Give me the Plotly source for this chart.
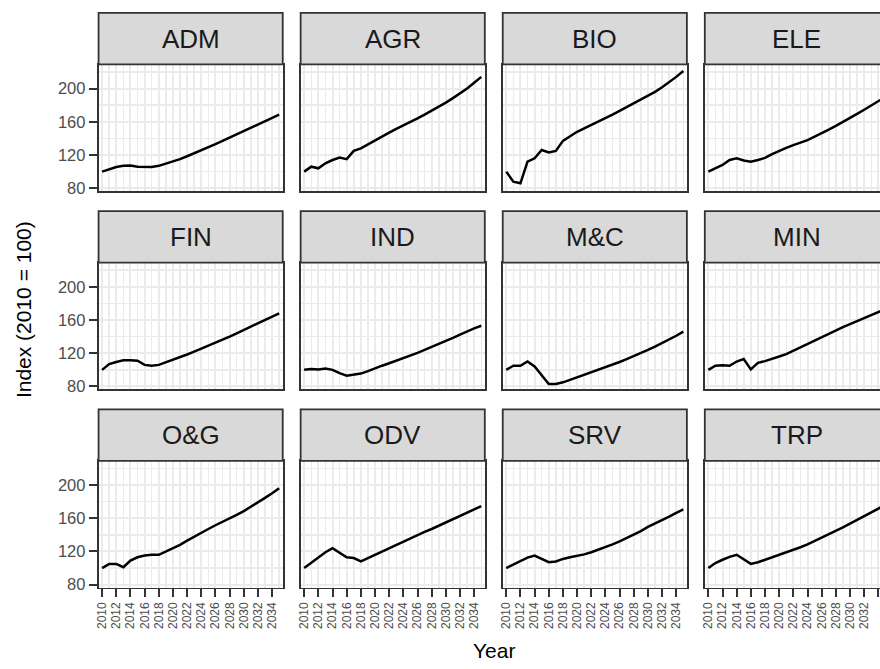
import plotly.graph_objects as go

# ---------------- data ----------------
years = list(range(2010, 2036))
sectors = ["ADM", "AGR", "BIO", "ELE", "FIN", "IND", "M&C", "MIN", "O&G", "ODV", "SRV", "TRP"]

ADM = [100, 103, 105.5, 107, 107.5, 106, 106, 105.5, 107, 109.5, 112, 115, 118.5, 122,
       125.5, 129, 133, 137, 141, 145, 149, 153, 156.5, 160.5, 164.5, 168.5]
AGR = [100, 106, 104, 110, 114, 117, 115, 125, 128, 133, 138, 142.5, 147, 151.5,
       155.5, 160, 164, 168.5, 173, 178, 183, 188.5, 194, 200, 207, 214]
BIO = [100, 88, 86, 112, 116, 126, 123, 125, 137, 143, 148, 152, 156, 160,
       164.5, 168.5, 173, 177.5, 182, 186.5, 191, 196, 201.5, 207.5, 214, 221]
ELE = [100, 104, 108, 114, 116, 113.5, 112, 114, 116.5, 121, 125, 128.5, 132, 135,
       138, 142, 146, 150.5, 155, 159.5, 164.5, 169.5, 174.5, 179.5, 184.5, 190]
FIN = [100, 107, 109.5, 111.5, 111.5, 111, 106, 105, 106, 109, 112.5, 115.5, 118.5, 122,
       125.5, 129, 132.5, 136, 140, 144, 148, 152, 156, 160, 164, 168]
IND = [100, 101, 100.5, 101.5, 100, 96, 93, 94.5, 95.5, 98.5, 102, 105, 108, 111,
       114, 117, 120.5, 124, 127.5, 131, 135, 138.5, 142.5, 146.5, 150, 153]
MC = [100, 105, 105, 110, 104, 93, 83, 83, 85, 88, 91, 94, 97, 100,
      103, 106, 109.5, 113, 116.5, 120, 124, 128, 132, 136.5, 141, 146]
MIN = [100, 105, 105.5, 105, 110, 113, 100.5, 108.5, 110.5, 113, 116, 119, 123, 127,
       131.5, 136, 139.5, 143.5, 147.5, 151.5, 155, 158.5, 162, 165.5, 169, 173]
OG = [100, 105, 105, 101, 109, 113, 115, 116, 116, 120, 124.5, 128, 133, 138,
      142.5, 147, 151.5, 155.5, 159.5, 164, 168.5, 173.5, 179, 184.5, 190, 196]
ODV = [100, 106.5, 113, 119, 124, 118, 113, 112, 108, 112, 116, 120, 124, 128,
       131.5, 135.5, 139.5, 143.5, 147, 151, 155, 158.5, 162.5, 166.5, 170.5, 174.5]
SRV = [100, 104.5, 109, 112.5, 115, 111, 107, 108, 111, 113, 114.5, 116.5, 119, 122,
       125, 128.5, 132, 136, 140, 144.5, 149.5, 153.5, 157.5, 162, 166.5, 170.5]
TRP = [100, 106, 110, 113.5, 116, 110.5, 105, 107, 110, 113, 115.5, 118.5, 121.5, 125,
       128.5, 132.5, 136.5, 140.5, 144.5, 149, 153.5, 158, 162.5, 167, 171.5, 176]

series = [ADM, AGR, BIO, ELE, FIN, IND, MC, MIN, OG, ODV, SRV, TRP]

x_ticks = list(range(2010, 2035, 2))
y_ticks = [80, 120, 160, 200]

# ---------------- layout geometry (px) ----------------
W, H = 880, 669
col_left = [95, 298, 501, 704]
panel_w = 185
row_top = [65, 265, 465]
panel_h = 128
strip_h = 52
x_lo, x_hi = 2009.5, 2035.5
y_range = [76.4, 229.0]

FONT = "Liberation Sans, Arial, Helvetica, sans-serif"
BORDER = "#333333"
GRID = "#EBEBEB"
TICKTXT = "#4D4D4D"

fig = go.Figure()
layout = dict(
    width=W, height=H,
    margin=dict(l=0, r=0, t=0, b=0),
    paper_bgcolor="white", plot_bgcolor="white",
    showlegend=False,
    font=dict(family=FONT, color="black"),
)
shapes = []
annotations = []

for i, (name, vals) in enumerate(zip(sectors, series)):
    r, c = divmod(i, 4)
    xk = "xaxis" if i == 0 else f"xaxis{i+1}"
    yk = "yaxis" if i == 0 else f"yaxis{i+1}"
    xref = "x" if i == 0 else f"x{i+1}"
    yref = "y" if i == 0 else f"y{i+1}"

    left = col_left[c]
    right_full = left + panel_w
    right = min(right_full, W)
    xr_hi = x_lo + (right - left) / panel_w * (x_hi - x_lo)
    top = row_top[r]
    bottom = top + panel_h

    fig.add_trace(go.Scatter(
        x=years, y=vals, mode="lines",
        line=dict(color="black", width=2.5),
        xaxis=xref, yaxis=yref, hoverinfo="skip",
    ))

    bottom_row = (r == 2)
    left_col = (c == 0)
    clipped = right < right_full

    layout[xk] = dict(
        domain=[left / W, right / W], anchor=yref,
        range=[x_lo, xr_hi], tickmode="array", tickvals=x_ticks,
        ticktext=[str(t) for t in x_ticks],
        showgrid=True, gridcolor=GRID, gridwidth=2,
        minor=dict(dtick=1, tick0=2010, showgrid=True, gridcolor=GRID, gridwidth=1.5, ticks=""),
        showline=True, linecolor=BORDER, linewidth=1.8, mirror=True,
        zeroline=False,
        ticks="outside" if bottom_row else "", ticklen=8, tickwidth=2, tickcolor=BORDER,
        showticklabels=bottom_row, tickangle=-90,
        tickfont=dict(family=FONT, size=12, color=TICKTXT),
        fixedrange=True,
    )
    layout[yk] = dict(
        domain=[(H - bottom) / H, (H - top) / H], anchor=xref,
        range=y_range, tickmode="array", tickvals=y_ticks,
        showgrid=True, gridcolor=GRID, gridwidth=2,
        minor=dict(tickvals=[100, 140, 180, 220], showgrid=True, gridcolor=GRID, gridwidth=1.5, ticks=""),
        showline=True, linecolor=BORDER, linewidth=1.8, mirror=not clipped,
        zeroline=False,
        ticks="outside" if left_col else "", ticklen=8, tickwidth=2, tickcolor=BORDER,
        showticklabels=left_col,
        tickfont=dict(family=FONT, size=16.5, color=TICKTXT),
        fixedrange=True,
    )

    # facet strip
    shapes.append(dict(
        type="rect", xref="paper", yref="paper",
        x0=left / W, x1=right_full / W,
        y0=(H - top) / H, y1=(H - top + strip_h) / H,
        fillcolor="#D9D9D9", line=dict(color=BORDER, width=1.8), layer="above",
    ))
    annotations.append(dict(
        text=name, xref="paper", yref="paper",
        x=(left + right_full) / 2 / W, y=(H - top + strip_h / 2) / H,
        xanchor="center", yanchor="middle", showarrow=False,
        font=dict(family=FONT, size=26, color="#1A1A1A"),
    ))

# axis titles
annotations.append(dict(
    text="Year", xref="paper", yref="paper",
    x=(col_left[0] + col_left[3] + panel_w) / 2 / W, y=(H - 656) / H,
    xanchor="center", yanchor="middle", showarrow=False,
    font=dict(family=FONT, size=21, color="black"),
))
annotations.append(dict(
    text="Index (2010 = 100)", xref="paper", yref="paper",
    x=19 / W, y=(H - 312) / H, textangle=-90,
    xanchor="center", yanchor="middle", showarrow=False,
    font=dict(family=FONT, size=21, color="black"),
))

layout["shapes"] = shapes
layout["annotations"] = annotations
fig.update_layout(**layout)

fig.write_html(
    "out.html",
    config={"displayModeBar": False, "staticPlot": True},
    post_script="document.body.style.margin='0';document.body.style.overflow='hidden';",
)
